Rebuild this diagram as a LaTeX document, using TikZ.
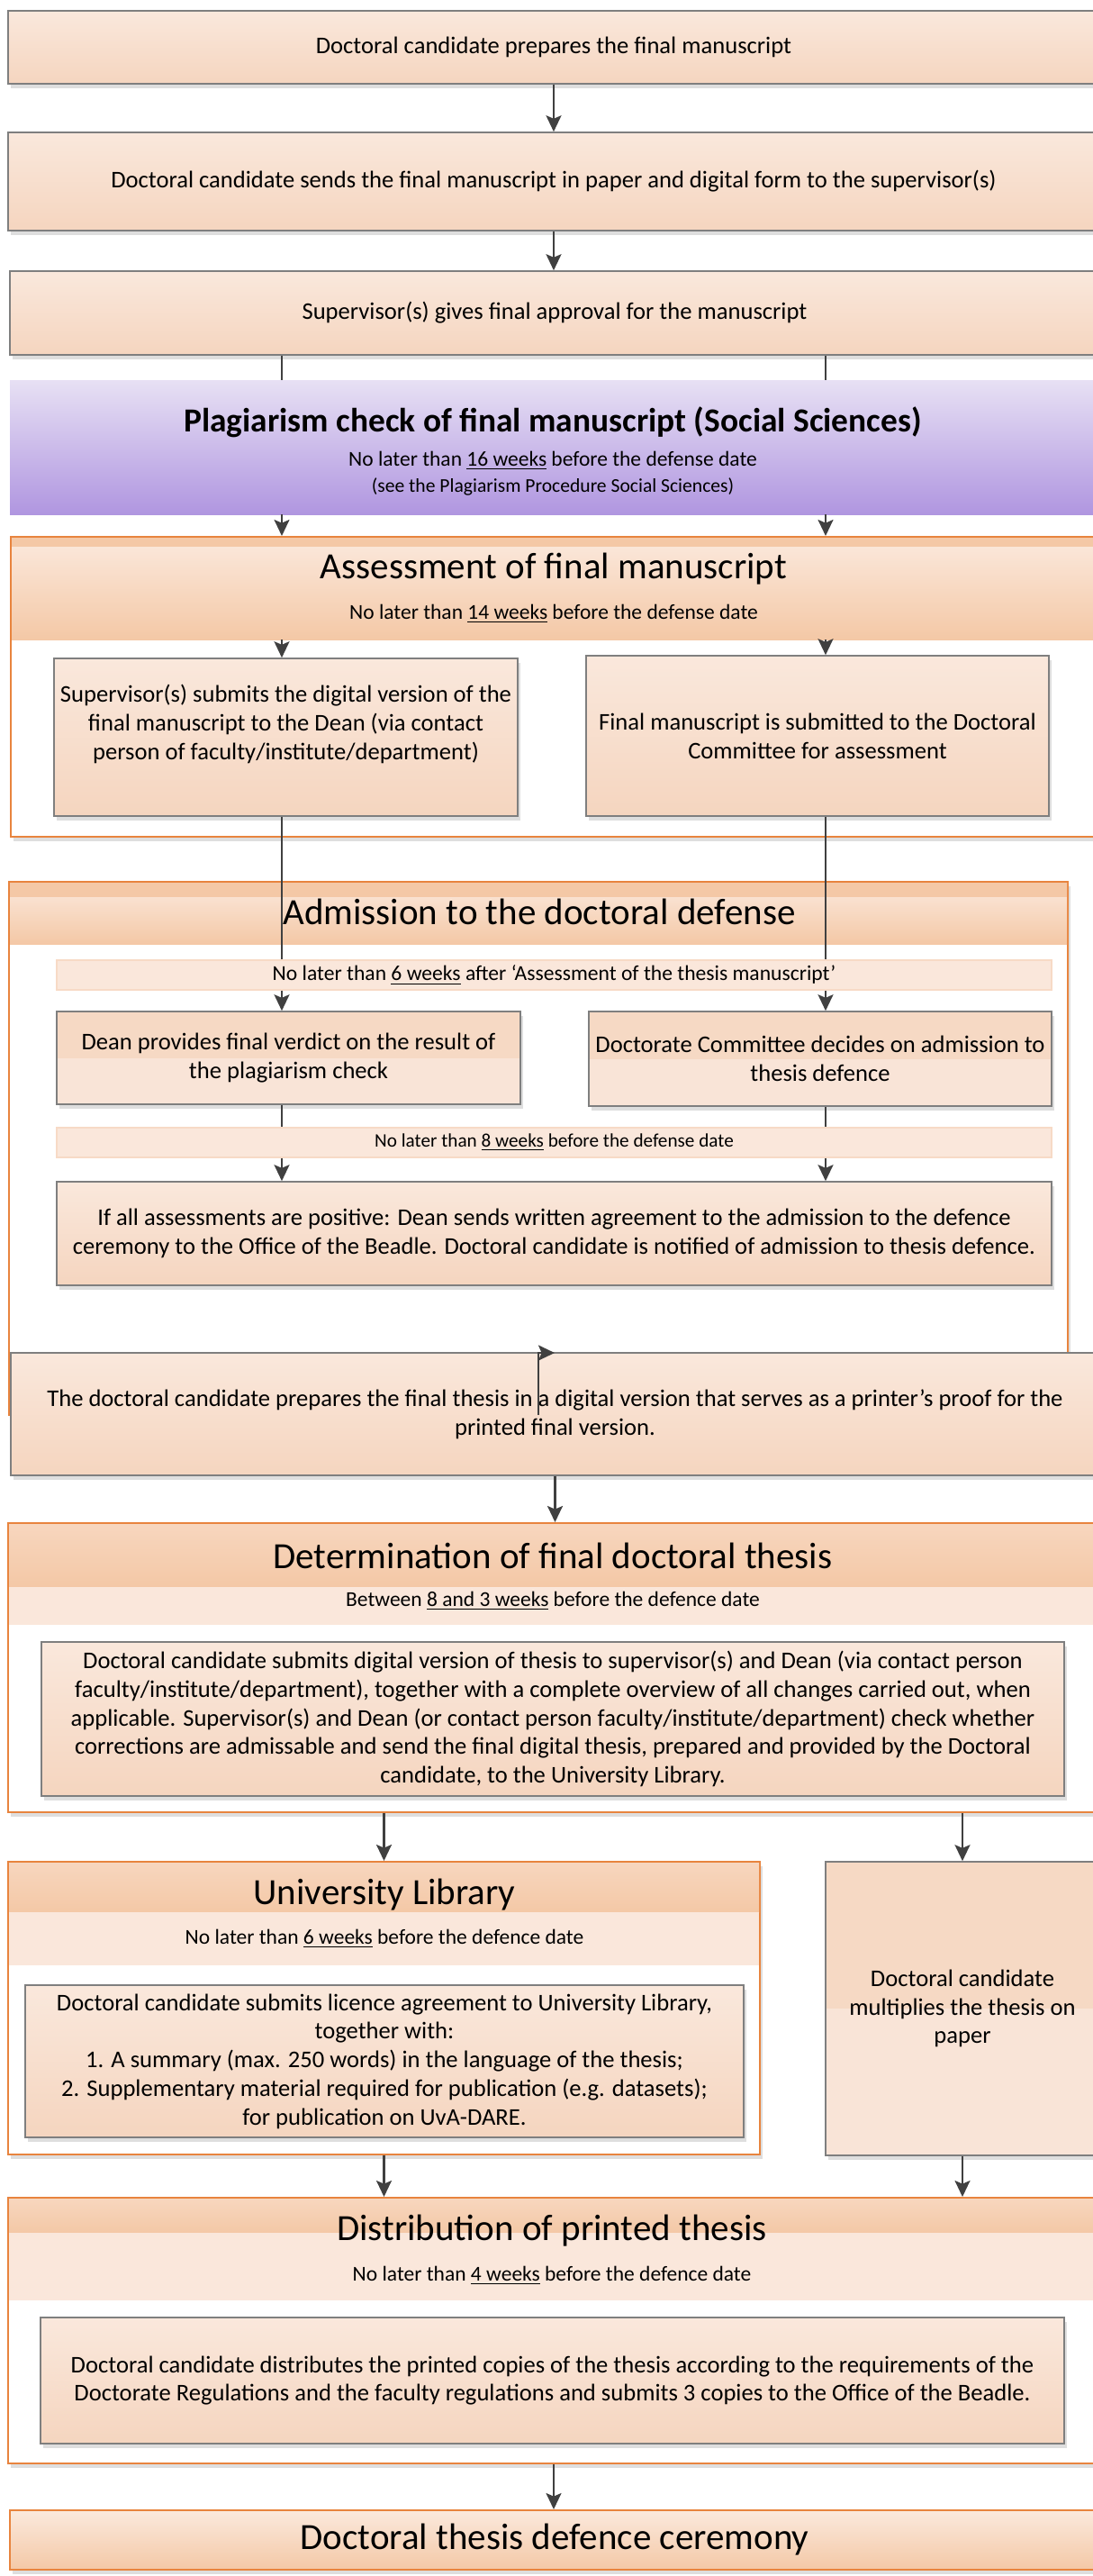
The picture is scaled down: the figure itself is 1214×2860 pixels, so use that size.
\documentclass[tikz,border=0pt]{standalone}
\usepackage{fontspec}
\setmainfont{Carlito}
\usetikzlibrary{positioning,arrows.meta,shadows,calc}

\definecolor{boxtop}{HTML}{FAE8DC}
\definecolor{boxbottom}{HTML}{F5D5BF}
\definecolor{boxline}{HTML}{7F7F7F}
\definecolor{splitdark}{HTML}{F6D9C4}
\definecolor{splitlight}{HTML}{F9E4D7}
\definecolor{headlight}{HTML}{FBE9DD}
\definecolor{headmid}{HTML}{F7D6BE}
\definecolor{headdark}{HTML}{F4C8A6}
\definecolor{bandfill}{HTML}{FAE7DB}
\definecolor{bandline}{HTML}{F7DAC6}
\definecolor{phaseline}{HTML}{E8843E}
\definecolor{plagtop}{HTML}{E7E0F4}
\definecolor{plagbottom}{HTML}{B096E0}
\definecolor{arrowgray}{HTML}{404040}

\tikzset{
  % area=x0/y0/x1/y1 in picture units (1 unit = 0.5pt)
  area/.style args={#1/#2/#3/#4}{
     at={({(#1+#3)/2},{(#2+#4)/2})},
     minimum width={(#3-#1)*0.5pt},
     minimum height={(#4-#2)*0.5pt}
  },
  boxbase/.style={
     draw=boxline,
     line width=0.8pt,
     inner sep=0pt,
     align=center,
     font=\fontsize{13.3}{15.9}\selectfont,
     drop shadow={shadow xshift=1.5pt, shadow yshift=-2.5pt, fill=black!13, opacity=1}
  },
  stepbox/.style={boxbase, top color=boxtop, bottom color=boxbottom},
  splitbox/.style={boxbase, fill=splitlight,
     path picture={\fill[splitdark] (path picture bounding box.north west) rectangle (path picture bounding box.east);}},
  phasebox/.style={
     draw=phaseline,
     line width=1pt,
     fill=white,
     inner sep=0pt,
     drop shadow={shadow xshift=1.5pt, shadow yshift=-2.5pt, fill=black!13, opacity=1}
  },
  phasehead/.style={
     top color=headlight, bottom color=headdark, inner sep=0pt,
     path picture={\fill[headdark] (path picture bounding box.north west) rectangle ([yshift=-#1]path picture bounding box.north east);}
  },
  phasehead/.default=5pt,
  phasebar/.style={top color=headmid, bottom color=headdark, inner sep=0pt},
  phaseband/.style={fill=bandfill, inner sep=0pt},
  band/.style={fill=bandfill, draw=bandline, line width=0.6pt, inner sep=0pt},
  plagbox/.style={top color=plagtop, bottom color=plagbottom, inner sep=0pt},
  stagetitle/.style={font=\fontsize{20.5}{24}\selectfont, inner sep=0pt},
  weeknote/.style={font=\fontsize{11.75}{14}\selectfont, inner sep=0pt},
  seenote/.style={font=\fontsize{10.8}{13}\selectfont, inner sep=0pt},
  wire/.style={draw=arrowgray, line width=1.1pt},
  arr/.style={wire, -{Stealth[length=9pt, width=8.5pt, inset=1.8pt]}}
}

\begin{document}
\begin{tikzpicture}[x=0.5pt, y=-0.5pt]
    % page frame, 1214 x 2860 units
    \clip (0,0) rectangle (1214,2860);
    \coordinate (colL) at (313,0);
    \coordinate (colR) at (917,0);

    % Final manuscript and approval
    \node[stepbox, area=9/12/1221/93] (prep) {Doctoral candidate prepares the final manuscript};
    \node[stepbox, area=9/147/1221/256] (send) {Doctoral candidate sends the final manuscript in paper and digital form to the supervisor(s)};
    \node[stepbox, area=11/301/1221/394] (approve) {Supervisor(s) gives final approval for the manuscript};
    \draw[arr] (prep.south) -- (prep.south |- send.north);
    \draw[arr] (send.south) -- (send.south |- approve.north);

    % Plagiarism check
    \node[plagbox, area=11/422/1221/571] (plag) {};
    \node[font=\bfseries\fontsize{18.7}{22}\selectfont, inner sep=0pt] (plagtitle) at (614,469) {Plagiarism check of final manuscript (Social Sciences)};
    \node[weeknote] (plagnote) at (614,511) {No later than \underline{16 weeks} before the defense date};
    \node[seenote] (plagsee) at (614,540) {(see the Plagiarism Procedure Social Sciences)};
    \draw[wire] (approve.south -| colL) -- (plag.north -| colL);
    \draw[wire] (approve.south -| colR) -- (plag.north -| colR);

    % Assessment of final manuscript
    \node[phasebox, area=12/596/1221/929] (assess) {};
    \node[phasehead=5pt, area=13/597/1220/710] (assesshead) {};
    \node[stagetitle] (assesstitle) at (615,632) {Assessment of final manuscript};
    \node[weeknote] (assessnote) at (615,681) {No later than \underline{14 weeks} before the defense date};
    \node[stepbox, area=60/731/575/906, text depth=17pt] (supsub) {Supervisor(s) submits the digital version of the\\final manuscript to the Dean (via contact\\person of faculty/institute/department)};
    \node[stepbox, area=651/728/1165/906] (comsub) {Final manuscript is submitted to the Doctoral\\Committee for assessment};
    \draw[arr] (plag.south -| colL) -- (assess.north -| colL);
    \draw[arr] (plag.south -| colR) -- (assess.north -| colR);
    \draw[arr] (assesshead.south -| colL) -- (supsub.north -| colL);
    \draw[arr] (assesshead.south -| colR) -- (comsub.north -| colR);

    % Admission to the doctoral defense
    \node[phasebox, area=10/979/1186/1571] (admit) {};
    \node[phasehead=8pt, area=11/980/1185/1048] (admithead) {};
    \node[stagetitle] (admittitle) at (599,1012) {Admission to the doctoral defense};
    \node[band, area=63/1066/1168/1099, font=\fontsize{11.8}{14}\selectfont] (sixweeks) {No later than \underline{6 weeks} after ‘Assessment of the thesis manuscript’};
    \node[splitbox, area=63/1123/578/1226] (dean) {Dean provides final verdict on the result of\\the plagiarism check};
    \node[splitbox, area=654/1123/1168/1228] (committee) {Doctorate Committee decides on admission to\\thesis defence};
    \node[band, area=63/1252/1168/1285, font=\fontsize{10.6}{13}\selectfont] (eightweeks) {No later than \underline{8 weeks} before the defense date};
    \node[stepbox, area=63/1312/1168/1427] (ifall) {If all assessments are positive: Dean sends written agreement to the admission to the defence\\ceremony to the Office of the Beadle. Doctoral candidate is notified of admission to thesis defence.};
    \draw[wire] (supsub.south -| colL) -- (sixweeks.north -| colL);
    \draw[wire] (comsub.south -| colR) -- (sixweeks.north -| colR);
    \draw[arr] (sixweeks.south -| colL) -- (dean.north -| colL);
    \draw[arr] (sixweeks.south -| colR) -- (committee.north -| colR);
    \draw[wire] (dean.south -| colL) -- (eightweeks.north -| colL);
    \draw[wire] (committee.south -| colR) -- (eightweeks.north -| colR);
    \draw[arr] (eightweeks.south -| colL) -- (ifall.north -| colL);
    \draw[arr] (eightweeks.south -| colR) -- (ifall.north -| colR);

    % Printer's proof
    \node[stepbox, area=12/1502/1221/1638] (proof) {The doctoral candidate prepares the final thesis in a digital version that serves as a printer’s proof for the\\printed final version.};
    \coordinate (stubfoot) at (598,1571);
    \coordinate (stubtip) at (616,1502);
    \draw[arr] (stubfoot) |- (stubtip);

    % Determination of final doctoral thesis
    \node[phasebox, area=9/1691/1221/2012] (determ) {};
    \node[phasebar, area=10/1692/1220/1762] (determbar) {};
    \node[phaseband, area=10/1762/1220/1804] (determband) {};
    \node[stagetitle] (determtitle) at (614,1727) {Determination of final doctoral thesis};
    \node[weeknote] (determnote) at (614,1777) {Between \underline{8 and 3 weeks} before the defence date};
    \node[stepbox, area=46/1823/1182/1994] (submit) {Doctoral candidate submits digital version of thesis to supervisor(s) and Dean (via contact person\\faculty/institute/department), together with a complete overview of all changes carried out, when\\applicable. Supervisor(s) and Dean (or contact person faculty/institute/department) check whether\\corrections are admissable and send the final digital thesis, prepared and provided by the Doctoral\\candidate, to the University Library.};
    \draw[arr] (proof.south) -- (proof.south |- determ.north);

    % University Library and printing
    \node[phasebox, area=9/2067/844/2392] (library) {};
    \node[phasebar, area=10/2068/843/2123] (librarybar) {};
    \node[phaseband, area=10/2123/843/2182] (libraryband) {};
    \node[stagetitle] (librarytitle) at (427,2104) {University Library};
    \node[weeknote] (librarynote) at (427,2152) {No later than \underline{6 weeks} before the defence date};
    \node[stepbox, area=28/2204/826/2373] (licence) {Doctoral candidate submits licence agreement to University Library,\\together with:\\1. A summary (max. 250 words) in the language of the thesis;\\2. Supplementary material required for publication (e.g. datasets);\\for publication on UvA-DARE.};
    \node[splitbox, area=917/2067/1221/2393] (multiply) {Doctoral candidate\\multiplies the thesis on\\paper};
    \draw[arr] (determ.south -| library.north) -- (library.north);
    \draw[arr] (determ.south -| multiply.north) -- (multiply.north);

    % Distribution of printed thesis
    \node[phasebox, area=9/2440/1221/2735] (distrib) {};
    \node[phasebar, area=10/2441/1220/2479] (distribbar) {};
    \node[phaseband, area=10/2479/1220/2554] (distribband) {};
    \node[stagetitle] (distribtitle) at (613,2477) {Distribution of printed thesis};
    \node[weeknote] (distribnote) at (613,2526) {No later than \underline{4 weeks} before the defence date};
    \node[stepbox, area=45/2573/1182/2713] (copies) {Doctoral candidate distributes the printed copies of the thesis according to the requirements of the\\Doctorate Regulations and the faculty regulations and submits 3 copies to the Office of the Beadle.};
    \draw[arr] (library.south) -- (library.south |- distrib.north);
    \draw[arr] (multiply.south) -- (multiply.south |- distrib.north);

    % Defence ceremony
    \node[phasebox, top color=headlight, bottom color=headdark, area=11/2787/1221/2853, font=\fontsize{20.5}{24}\selectfont] (ceremony) {Doctoral thesis defence ceremony};
    \draw[arr] (distrib.south) -- (distrib.south |- ceremony.north);
\end{tikzpicture}
\end{document}
